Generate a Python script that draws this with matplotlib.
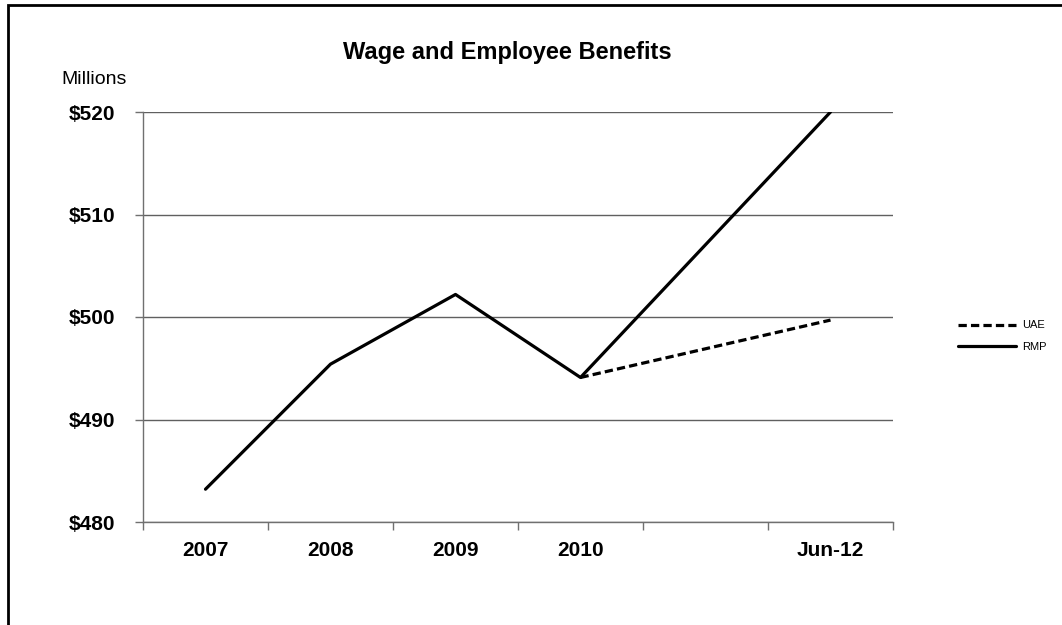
"""
Wage and Employee Benefits chart
"""
import numpy as np
import matplotlib
matplotlib.use("Agg")
import matplotlib.pyplot as plt
from matplotlib.patches import Rectangle

# Data (millions of dollars)
categories = ['2007', '2008', '2009', '2010', '', 'Jun-12']
rmp = [483.2, 495.4, 502.2, 494.1, np.nan, 520.0]
uae = [np.nan, np.nan, np.nan, 494.1, np.nan, 499.7]
y_ticks = [480, 490, 500, 510, 520]

plt.rcParams['font.family'] = ['Liberation Sans', 'DejaVu Sans']

fig = plt.figure(figsize=(10.62, 6.25), dpi=100)
ax = fig.add_axes([143/1062, 1 - 522/625, 750/1062, 410/625])

x = np.arange(len(categories))


def plot_series(vals, **kw):
    vals = np.array(vals, dtype=float)
    ok = ~np.isnan(vals)
    return ax.plot(x[ok], vals[ok], **kw)[0]


l_uae = plot_series(uae, color='black', lw=2.3, dashes=(2.6, 1.3),
                    solid_capstyle='butt', dash_capstyle='butt')
l_rmp = plot_series(rmp, color='black', lw=2.3, solid_capstyle='round')

ax.set_xlim(-0.5, len(categories) - 0.5)
ax.set_ylim(480, 520)
ax.set_yticks(y_ticks)
ax.set_yticklabels(['$%d' % v for v in y_ticks], fontsize=15, fontweight='bold')
ax.set_xticks(x)
ax.set_xticklabels(categories, fontsize=15, fontweight='bold')
ax.set_xticks(np.arange(len(categories) + 1) - 0.5, minor=True)
ax.tick_params(axis='x', which='major', length=0, pad=14)
ax.tick_params(axis='x', which='minor', length=6, width=1, color='#707070')
ax.tick_params(axis='y', length=6, width=1, color='#707070', pad=14)

ax.grid(axis='y', color='#606060', lw=1)
ax.set_axisbelow(True)
for s in ['top', 'right']:
    ax.spines[s].set_visible(False)
for s in ['left', 'bottom']:
    ax.spines[s].set_color('#707070')
    ax.spines[s].set_linewidth(1)

fig.text(507/1062, 1 - 53/625, 'Wage and Employee Benefits', ha='center', va='center',
         fontsize=17, fontweight='bold')
fig.text(61/1062, 1 - 80/625, 'Millions', ha='left', va='center', fontsize=14)

fig.legend([l_uae, l_rmp], ['UAE', 'RMP'], loc='center left',
           bbox_to_anchor=(948/1062, 1 - 336/625), frameon=False, fontsize=8,
           handlelength=5.2, handletextpad=0.6, labelspacing=1.0)

# outer chart border (cut off at right and bottom)
fig.patches.append(Rectangle((8/1062, -0.1), 1.2, 1 - 5/625 + 0.1, transform=fig.transFigure,
                             fill=False, edgecolor='black', lw=2))

fig.savefig('out.png', dpi=100)
